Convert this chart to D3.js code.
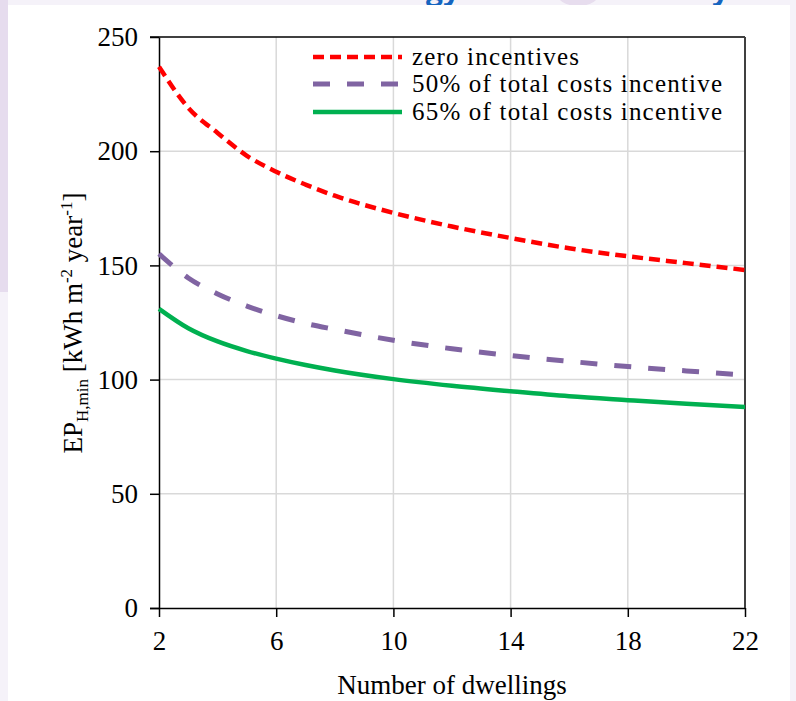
<!DOCTYPE html>
<html><head><meta charset="utf-8">
<script src="https://cdn.jsdelivr.net/npm/d3@7"></script>
<style>html,body{margin:0;padding:0;background:#f5f2f9;}svg{display:block;}</style>
</head><body>
<svg id="c" width="796" height="701"></svg>
<script>
const dwellings = [2,3,4,5,6,7,8,10,12,14,16,18,20,22];
const zeroIncentive = [237,219,208,198,191,185.4,180.5,173,167,162,157.5,154,151,148];
const incentive50 = [155,144.5,137.5,132.2,128,124.6,122,117.2,113.5,110.5,108,105.7,103.8,102];
const incentive65 = [131,122.5,116.7,112.5,109.2,106.4,104,100.2,97.3,94.9,92.7,91,89.4,88];
const seriesNames = ["zero incentives","50% of total costs incentive","65% of total costs incentive"];
const xTicks = [2,6,10,14,18,22];
const yTicks = [0,50,100,150,200,250];

const svg = d3.select("#c");
const font = "Liberation Serif";

// page background pieces
svg.append("rect").attr("x",0).attr("y",0).attr("width",796).attr("height",701).attr("fill","#f5f2f9");
svg.append("rect").attr("x",0).attr("y",0).attr("width",8).attr("height",292).attr("fill","#e6dcee");
svg.append("ellipse").attr("cx",578).attr("cy",-8).attr("rx",22).attr("ry",14).attr("fill","#e7ddee");
svg.append("text").attr("x",426).attr("y",0).attr("font-family","Open Sans").attr("font-weight","bold")
  .attr("font-size",30).attr("fill","#1565c0").text("gy");
svg.append("text").attr("x",712).attr("y",0).attr("font-family","Open Sans").attr("font-weight","bold")
  .attr("font-size",30).attr("fill","#1565c0").text("y");
svg.append("rect").attr("x",8).attr("y",5).attr("width",782).attr("height",696).attr("fill","#ffffff");

const L = 159, R = 745, T = 37, B = 608;
const x = d3.scaleLinear().domain([2,22]).range([L,R]);
const y = d3.scaleLinear().domain([0,250]).range([B,T]);

// grid
const g = svg.append("g");
g.selectAll(".hg").data([50,100,150,200]).join("line")
  .attr("x1",L).attr("x2",R).attr("y1",d=>y(d)).attr("y2",d=>y(d))
  .attr("stroke","#d9d9d9").attr("stroke-width",1.5);
g.selectAll(".vg").data([6,10,14,18]).join("line")
  .attr("y1",T).attr("y2",B).attr("x1",d=>x(d)).attr("x2",d=>x(d))
  .attr("stroke","#d9d9d9").attr("stroke-width",1.5);
// top and right borders
svg.append("line").attr("x1",L-9).attr("x2",R).attr("y1",y(250)).attr("y2",y(250)).attr("stroke","#000").attr("stroke-width",1.5);
svg.append("line").attr("x1",R).attr("x2",R).attr("y1",T).attr("y2",B).attr("stroke","#404040").attr("stroke-width",2);

// axes
const xAxis = svg.append("g").attr("transform",`translate(0,${B})`)
  .call(d3.axisBottom(x).tickValues(xTicks).tickSize(9).tickSizeOuter(0).tickPadding(14));
const yAxis = svg.append("g").attr("transform",`translate(${L},0)`)
  .call(d3.axisLeft(y).tickValues(yTicks).tickSize(9).tickSizeOuter(0).tickPadding(12));
[xAxis,yAxis].forEach(a=>{
  a.select(".domain").attr("stroke","#000").attr("stroke-width",1.5);
  a.selectAll(".tick line").attr("stroke","#000").attr("stroke-width",1.5);
  a.selectAll("text").attr("font-family",font).attr("font-size",27).attr("fill","#000");
});
xAxis.select(".domain").attr("d",`M${L-9},0.5H${R}`);

// lines
const styles = [
  {data:zeroIncentive,color:"#ff0000",dash:"11,6",w:4.5},
  {data:incentive50,color:"#8064a2",dash:"17,17",w:5},
  {data:incentive65,color:"#00b050",dash:null,w:4.5}
];
const line = d3.line().x(d=>x(d[0])).y(d=>y(d[1])).curve(d3.curveMonotoneX);
styles.forEach(s=>{
  svg.append("path").datum(dwellings.map((d,i)=>[d,s.data[i]]))
    .attr("d",line).attr("fill","none").attr("stroke",s.color).attr("stroke-width",s.w)
    .attr("stroke-dasharray",s.dash);
});

// legend
const legY = [57,84,112];
const textLens = [167,310,310];
styles.forEach((s,i)=>{
  svg.append("line").attr("x1",313).attr("x2",402).attr("y1",legY[i]).attr("y2",legY[i])
    .attr("stroke",s.color).attr("stroke-width",s.w).attr("stroke-dasharray",s.dash);
  svg.append("text").attr("x",412).attr("y",legY[i]+8).attr("font-family",font).attr("font-size",25)
    .attr("textLength",textLens[i]).attr("lengthAdjust","spacing").text(seriesNames[i]);
});

// axis titles
svg.append("text").attr("x",452).attr("y",694).attr("text-anchor","middle").attr("font-family",font)
  .attr("font-size",27).text("Number of dwellings");
const yt = svg.append("text").attr("transform","translate(82,323) rotate(-90)").attr("text-anchor","middle")
  .attr("font-family",font).attr("font-size",27);
yt.append("tspan").text("EP");
yt.append("tspan").attr("font-size",17).attr("dy",6).text("H,min");
yt.append("tspan").attr("dy",-6).text(" [kWh m");
yt.append("tspan").attr("font-size",17).attr("dy",-10).text("-2");
yt.append("tspan").attr("dy",10).text(" year");
yt.append("tspan").attr("font-size",17).attr("dy",-10).text("-1");
yt.append("tspan").attr("dy",10).text("]");
</script>
</body></html>
